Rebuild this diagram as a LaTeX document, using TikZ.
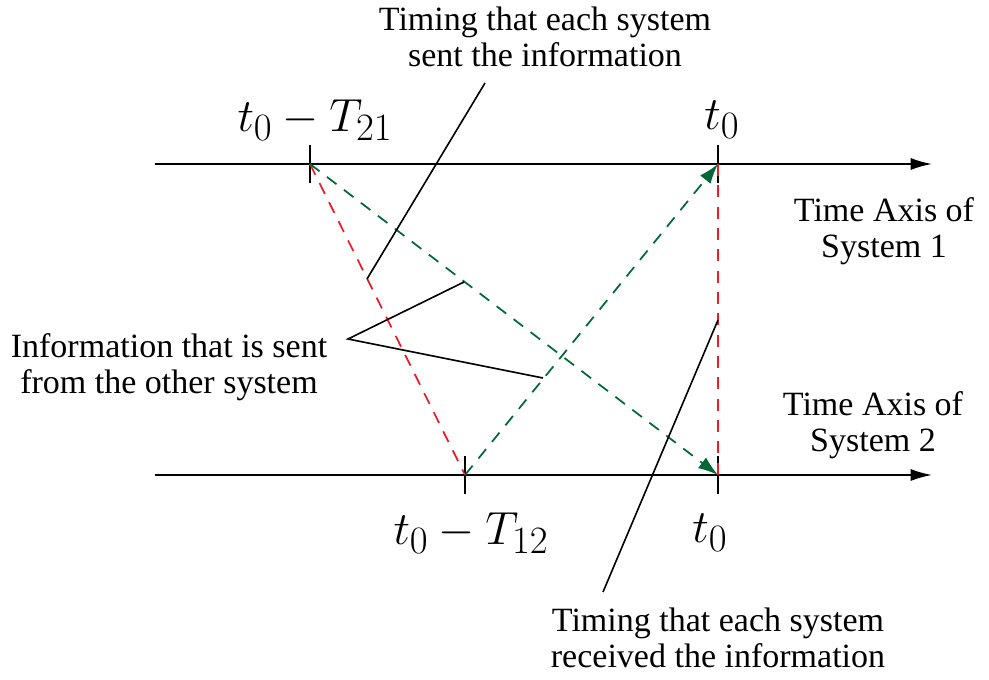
\documentclass[tikz,border=0pt]{standalone}
\usepackage{graphicx}
\usepackage[no-math]{fontspec}
\setmainfont{Liberation Serif}
\usetikzlibrary{arrows.meta}
\definecolor{myred}{RGB}{237,28,36}
\definecolor{mygreen}{RGB}{0,104,55}
\newcommand{\bigmath}[1]{\scalebox{1.4}{\fontsize{24.88}{30}\selectfont$#1$}}
\begin{document}
\begin{tikzpicture}[x=0.75pt,y=-0.75pt,
  axis/.style={line width=1.3pt,-{Latex[length=16pt,width=9pt]}},
  tick/.style={line width=1.3pt},
  reddash/.style={myred,line width=1.3pt,dash pattern=on 9pt off 7pt},
  greendash/.style={mygreen,line width=1.3pt,dash pattern=on 9pt off 7pt,-{Latex[length=15pt,width=10pt]}},
  pointer/.style={line width=1.2pt},
  lbl/.style={align=center,font=\fontsize{25.5}{27}\selectfont,inner sep=0pt},
  mlbl/.style={inner sep=0pt}]
\useasboundingbox (0,0) rectangle (989,680);
% axes
\coordinate (a1s) at (155,164);
\coordinate (a1e) at (932,164);
\coordinate (a2s) at (155,475);
\coordinate (a2e) at (932,475);
\draw[axis] (a1s) -- (a1e);
\draw[axis] (a2s) -- (a2e);
% ticks
\coordinate (p1) at (310,164);
\coordinate (q1) at (718,164);
\coordinate (p2) at (465,475);
\coordinate (q2) at (718,475);
\coordinate (p1t) at (310,145); \coordinate (p1b) at (310,183);
\coordinate (q1t) at (718,145); \coordinate (q1b) at (718,183);
\coordinate (p2t) at (465,456); \coordinate (p2b) at (465,494);
\coordinate (q2t) at (718,456); \coordinate (q2b) at (718,494);
\draw[tick] (p1t) -- (p1b);
\draw[tick] (q1t) -- (q1b);
\draw[tick] (p2t) -- (p2b);
\draw[tick] (q2t) -- (q2b);
% dashed lines
\draw[reddash] (p1) -- (p2);
\draw[reddash] (q1) -- (q2);
\draw[greendash] (p1) -- (q2);
\draw[greendash] (p2) -- (q1);
% math labels
\node[mlbl] (l1) at (315,120) {\bigmath{t_0-T_{21}}};
\node[mlbl] (l2) at (722,120) {\bigmath{t_0}};
\node[mlbl] (l3) at (471,533) {\bigmath{t_0-T_{12}}};
\node[mlbl] (l4) at (710,533) {\bigmath{t_0}};
% text labels
\node[lbl] (sent) at (545,37) {Timing that each system\\sent the information};
\node[lbl] (ax1) at (884,231) {Time Axis of\\System 1};
\node[lbl] (ax2) at (873,425) {Time Axis of\\System 2};
\node[lbl] (info) at (169,367) {Information that is sent\\from the other system};
\node[lbl] (recv) at (718,638) {Timing that each system\\received the information};
% pointer lines
\coordinate (s1) at (485,83);
\coordinate (s2) at (367,279);
\draw[pointer] (s1) -- (s2);
\coordinate (i0) at (348,339);
\coordinate (i1) at (464,282);
\coordinate (i2) at (543,378);
\draw[pointer] (i1) -- (i0) -- (i2);
\coordinate (r1) at (718,320);
\coordinate (r2) at (603,592);
\draw[pointer] (r1) -- (r2);
\end{tikzpicture}
\end{document}
